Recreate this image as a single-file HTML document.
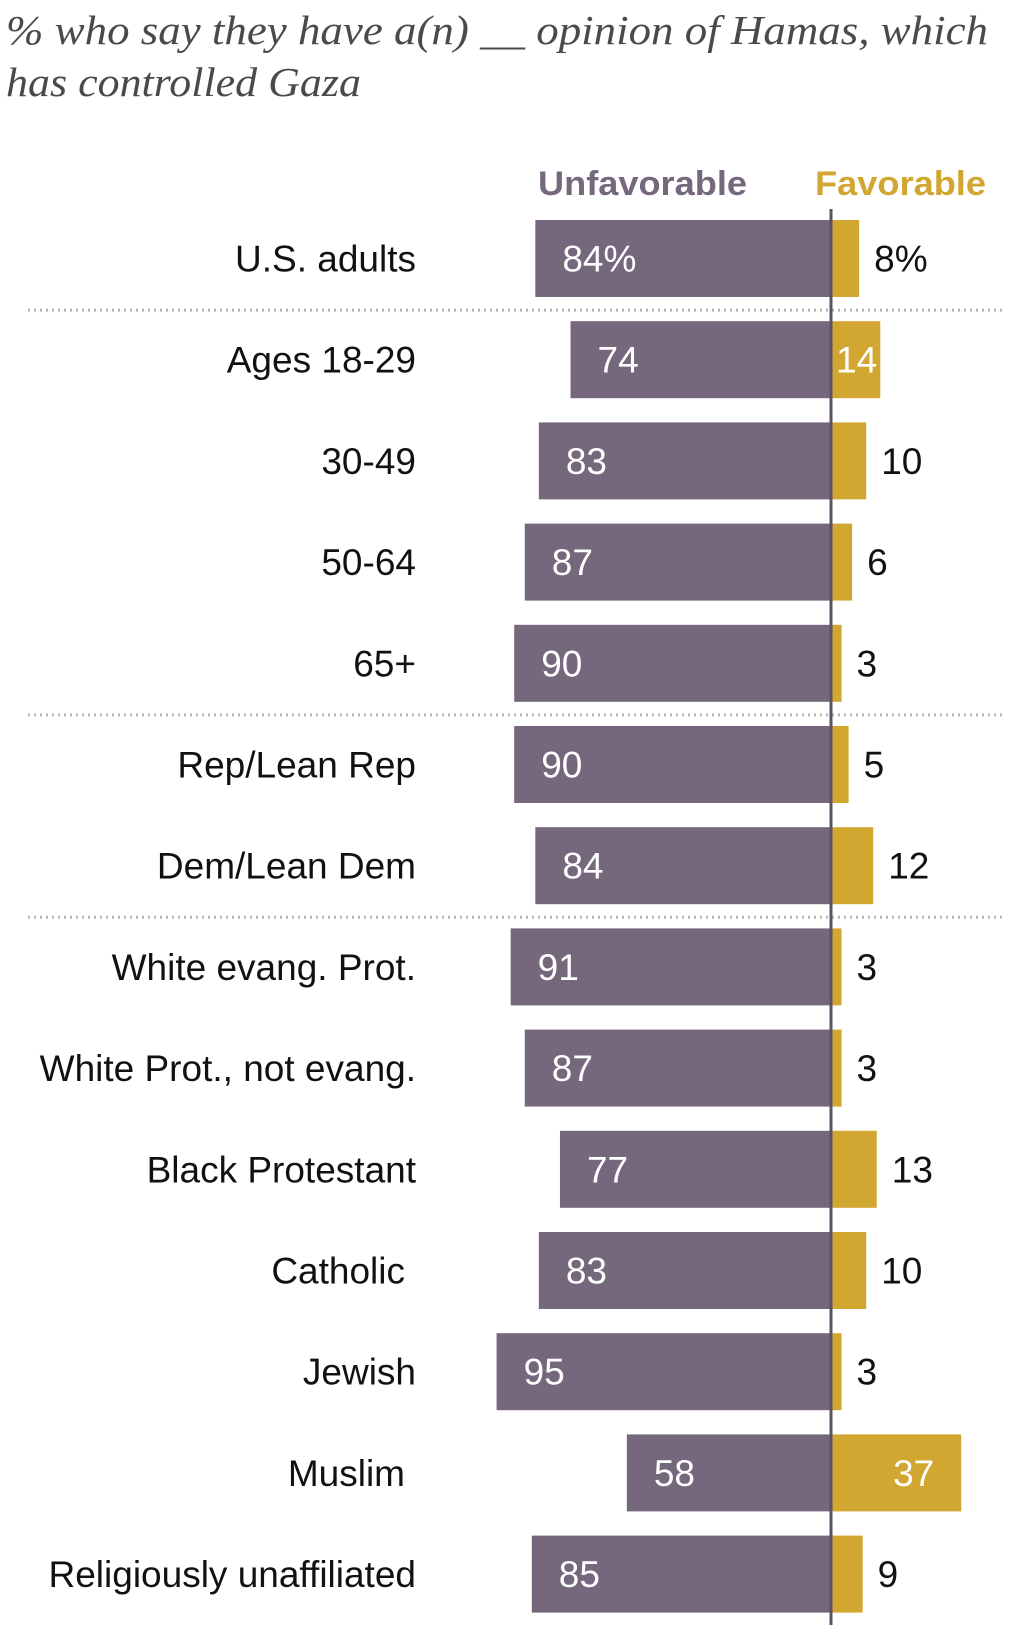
<!DOCTYPE html>
<html><head><meta charset="utf-8">
<style>
html,body{margin:0;padding:0;background:#fff;}
svg{display:block;}
</style></head>
<body>
<svg id="chart" width="1032" height="1637" xmlns="http://www.w3.org/2000/svg">
  <g font-family="Liberation Serif, serif" font-style="italic" font-size="41" fill="#4a4a4a">
    <text x="6" y="44" textLength="982" lengthAdjust="spacingAndGlyphs">% who say they have a(n) __ opinion of Hamas, which</text>
    <text x="6" y="96" textLength="355" lengthAdjust="spacingAndGlyphs">has controlled Gaza</text>
  </g>
  <text x="538" y="195" font-family="Liberation Sans, sans-serif" font-weight="bold" font-size="34" fill="#75687d" textLength="209" lengthAdjust="spacingAndGlyphs">Unfavorable</text>
  <text x="815" y="195" font-family="Liberation Sans, sans-serif" font-weight="bold" font-size="34" fill="#d1a731" textLength="171" lengthAdjust="spacingAndGlyphs">Favorable</text>
  <g id="sep"></g>
  <g id="bars"></g>
  <line x1="831" x2="831" y1="209" y2="1625" stroke="#5c5266" stroke-width="3"/>
</svg>
<script>
const categories = ["U.S. adults","Ages 18-29","30-49","50-64","65+","Rep/Lean Rep","Dem/Lean Dem","White evang. Prot.","White Prot., not evang.","Black Protestant","Catholic","Jewish","Muslim","Religiously unaffiliated"];
const unfavorable = [84,74,83,87,90,90,84,91,87,77,83,95,58,85];
const favorable = [8,14,10,6,3,5,12,3,3,13,10,3,37,9];
const separatorsAfter = [0,4,6];

const NS = "http://www.w3.org/2000/svg";
const axisX = 831, unit = 3.52, rowTop0 = 220, pitch = 101.2, barH = 77, fs = 37;
const xScale = v => v * unit;
const yRow = i => rowTop0 + i * pitch;
const bars = document.getElementById('bars');
const sep = document.getElementById('sep');
function mk(tag, attrs, parent){const e=document.createElementNS(NS,tag);for(const k in attrs)e.setAttribute(k,attrs[k]);parent.appendChild(e);return e;}

separatorsAfter.forEach(i=>{
  const y = yRow(i) + barH + (pitch-barH)/2 + 1;
  const l = mk('line',{x1:28,x2:1002,y1:y,y2:y,stroke:'#b5b5b5','stroke-width':3,'stroke-dasharray':'2 4'},sep);
  
  
});

categories.forEach((c,i)=>{
  const top = yRow(i), cy = top + barH/2 + 13;
  const lab = mk('text',{x:(c==="Catholic"||c==="Muslim")?405:416,y:cy,'text-anchor':'end','font-family':'Liberation Sans, sans-serif','font-size':fs,fill:'#111'},bars);
  lab.textContent = c;
  
  

  const uw = xScale(unfavorable[i]);
  const ub = mk('rect',{x:axisX-uw,y:top,width:uw,height:barH,fill:'#75687d'},bars);
  
  
  const ut = mk('text',{x:axisX-uw+27,y:cy,'font-family':'Liberation Sans, sans-serif','font-size':fs,fill:'#fff'},bars);
  ut.textContent = unfavorable[i] + (i===0?'%':'');
  
  

  const fw = xScale(favorable[i]);
  const fb = mk('rect',{x:axisX,y:top,width:fw,height:barH,fill:'#d1a731'},bars);
  
  
  let fx, fill, anchor='start';
  if (favorable[i] >= 30){ fx = axisX+fw-27; fill='#fff'; anchor='end'; }
  else if (favorable[i] === 14){ fx = axisX+5; fill='#fff'; }
  else { fx = axisX+fw+15; fill='#111'; }
  const ft = mk('text',{x:fx,y:cy,'text-anchor':anchor,'font-family':'Liberation Sans, sans-serif','font-size':fs,fill:fill},bars);
  ft.textContent = favorable[i] + (i===0?'%':'');
  
  
});
</script>
</body></html>
